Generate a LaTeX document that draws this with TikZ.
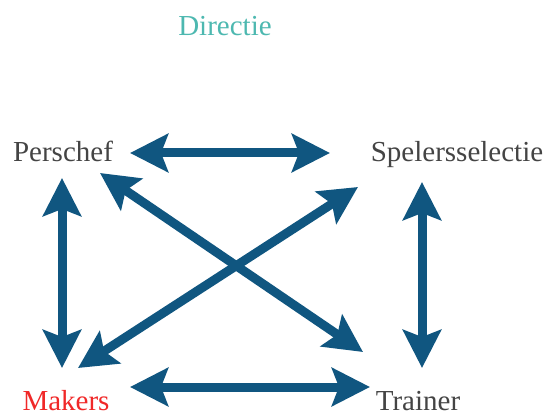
\documentclass[tikz,border=0pt]{standalone}
\usepackage{fontspec}
\setmainfont{Liberation Serif}
\usetikzlibrary{arrows.meta}
\definecolor{arrowblue}{RGB}{16,86,128}
\definecolor{teal1}{RGB}{77,184,176}
\definecolor{redtxt}{RGB}{240,40,40}
\definecolor{graytxt}{RGB}{68,68,68}
\tikzset{
  lbl/.style={inner sep=0pt, anchor=base, font=\fontsize{29}{32}\selectfont, text=graytxt},
  link/.style={arrowblue, line width=9pt,
    {Stealth[length=38pt,width=38pt,inset=7pt]}-{Stealth[length=38pt,width=38pt,inset=7pt]}}
}
\begin{document}
\begin{tikzpicture}[x=1pt,y=-1pt]
\useasboundingbox (0,0) rectangle (544,417);
\node[lbl, text=teal1] (dir) at (225,36) {Directie};
\node[lbl] (pers) at (63,162) {Perschef};
\node[lbl] (spel) at (457,162) {Spelersselectie};
\node[lbl, text=redtxt] (mak) at (66,410) {Makers};
\node[lbl] (tr) at (418,410) {Trainer};
% arrow end points
\coordinate (pR) at (130,153);
\coordinate (sL) at (330,153);
\coordinate (pD) at (62,178);
\coordinate (mU) at (62,368);
\coordinate (sD) at (422,182);
\coordinate (tU) at (422,368);
\coordinate (mR) at (130,387);
\coordinate (tL) at (370,387);
\coordinate (pX) at (100,173);
\coordinate (tX) at (363,352);
\coordinate (sX) at (358,187);
\coordinate (mX) at (78,368);
\draw[link] (pR) -- (sL);
\draw[link] (mR) -- (tL);
\draw[link] (pD) -- (mU);
\draw[link] (sD) -- (tU);
\draw[link] (pX) -- (tX);
\draw[link] (sX) -- (mX);
\end{tikzpicture}
\end{document}
